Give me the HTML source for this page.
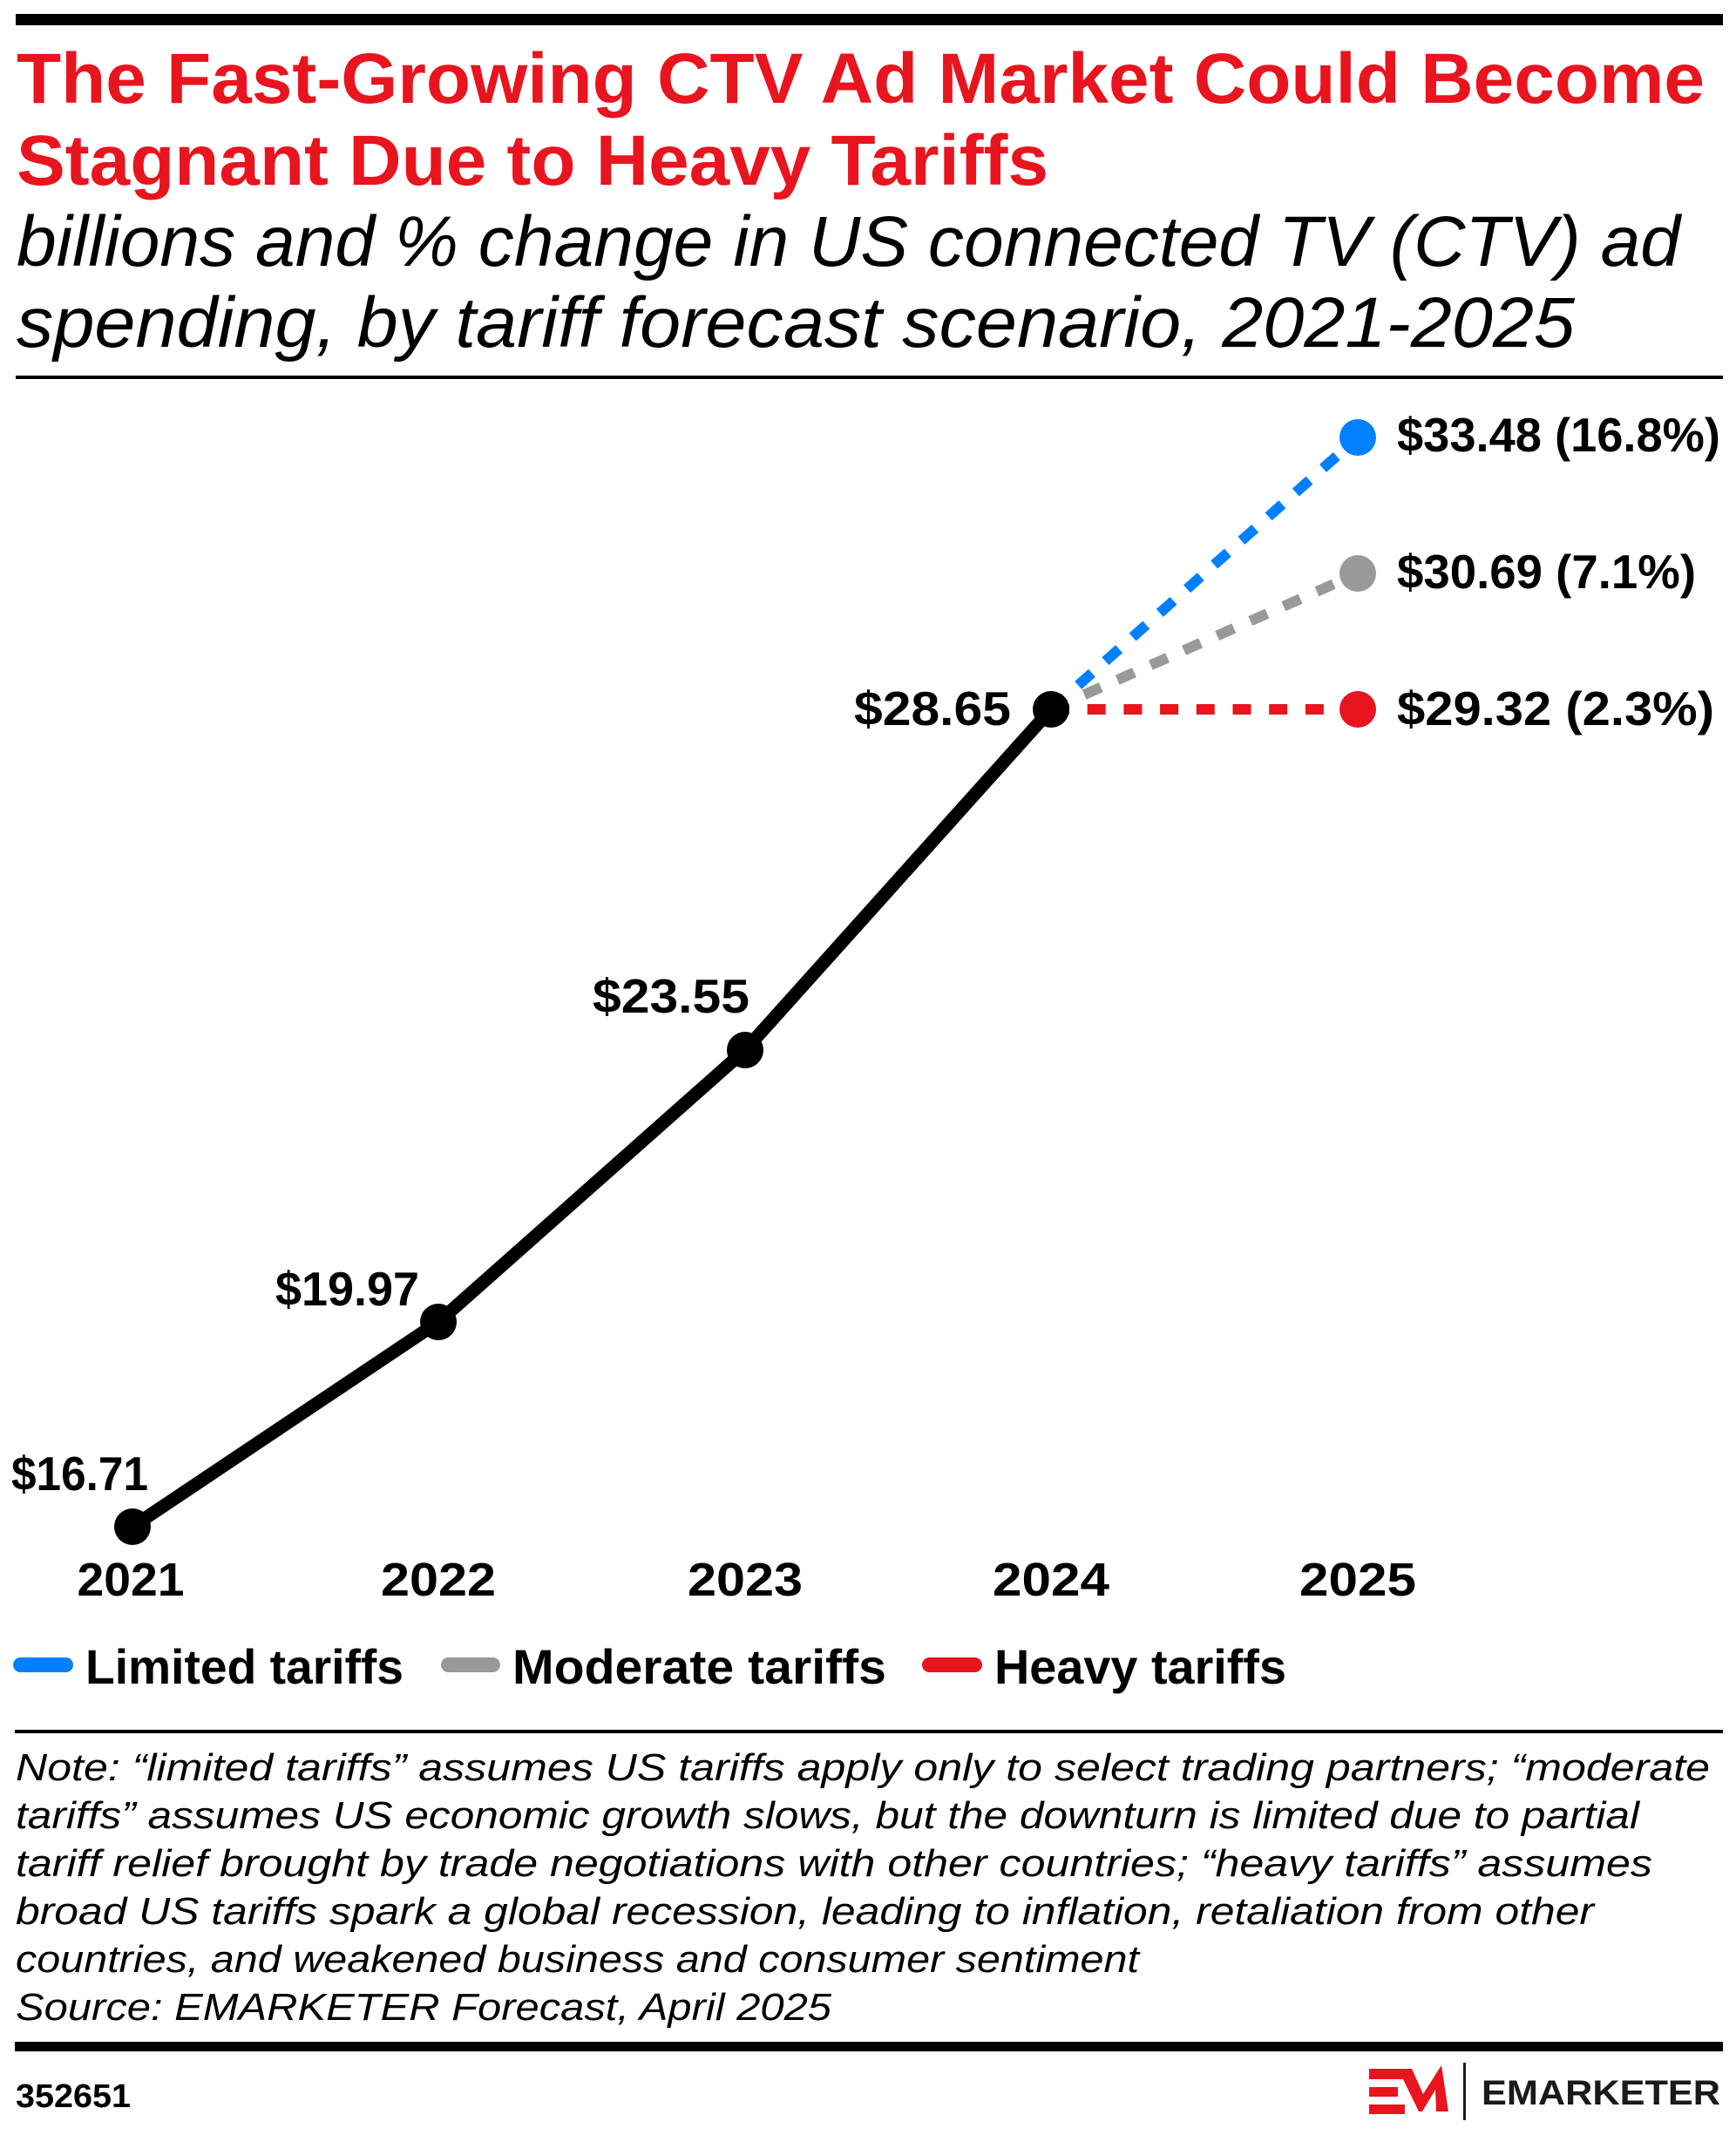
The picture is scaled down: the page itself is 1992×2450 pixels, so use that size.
<!DOCTYPE html>
<html>
<head>
<meta charset="utf-8">
<style>
html,body{margin:0;padding:0;background:#fff;}
svg{display:block;}
text{font-family:"Liberation Sans", Arial, sans-serif;}
</style>
</head>
<body>
<svg width="1992" height="2450" viewBox="0 0 1992 2450" xmlns="http://www.w3.org/2000/svg">
<rect x="0" y="0" width="1992" height="2450" fill="#ffffff"/>
<!-- top bar -->
<rect x="18" y="16" width="1959" height="13" fill="#000"/>
<!-- title -->
<text x="19" y="118" font-size="82" font-weight="700" fill="#E8141E" textLength="1937" lengthAdjust="spacingAndGlyphs">The Fast-Growing CTV Ad Market Could Become</text>
<text x="19" y="212" font-size="82" font-weight="700" fill="#E8141E" textLength="1184" lengthAdjust="spacingAndGlyphs">Stagnant Due to Heavy Tariffs</text>
<text x="19" y="305" font-size="82" font-style="italic" fill="#000" textLength="1909" lengthAdjust="spacingAndGlyphs">billions and % change in US connected TV (CTV) ad</text>
<text x="19" y="398" font-size="82" font-style="italic" fill="#000" textLength="1788" lengthAdjust="spacingAndGlyphs">spending, by tariff forecast scenario, 2021-2025</text>
<rect x="18" y="431" width="1959" height="4" fill="#000"/>

<!-- dashed scenario lines -->
<path d="M1206 814 L1558 502" stroke="#0080FF" stroke-width="12" stroke-dasharray="21 20.7" fill="none"/>
<path d="M1206 814 L1558 658" stroke="#999999" stroke-width="12" stroke-dasharray="21 20.7" fill="none"/>
<path d="M1206 814 L1558 814" stroke="#E8141E" stroke-width="12" stroke-dasharray="21 20.7" fill="none"/>

<!-- main line -->
<polyline points="152,1752 503,1517 855,1205 1206,814" stroke="#000" stroke-width="15" fill="none" stroke-linejoin="round"/>
<circle cx="152" cy="1752" r="21" fill="#000"/>
<circle cx="503" cy="1517" r="21" fill="#000"/>
<circle cx="855" cy="1205" r="21" fill="#000"/>
<circle cx="1206" cy="814" r="21" fill="#000"/>
<circle cx="1558" cy="502" r="21" fill="#0080FF"/>
<circle cx="1558" cy="658" r="21" fill="#999999"/>
<circle cx="1558" cy="814" r="21" fill="#E8141E"/>

<!-- data labels -->
<g font-size="55" font-weight="700" fill="#000">
<text x="13" y="1710" textLength="157" lengthAdjust="spacingAndGlyphs">$16.71</text>
<text x="316" y="1498" textLength="165" lengthAdjust="spacingAndGlyphs">$19.97</text>
<text x="680" y="1162" textLength="180" lengthAdjust="spacingAndGlyphs">$23.55</text>
<text x="980" y="832" textLength="180" lengthAdjust="spacingAndGlyphs">$28.65</text>
<text x="1603" y="518" textLength="371" lengthAdjust="spacingAndGlyphs">$33.48 (16.8%)</text>
<text x="1603" y="675" textLength="343" lengthAdjust="spacingAndGlyphs">$30.69 (7.1%)</text>
<text x="1603" y="832" textLength="364" lengthAdjust="spacingAndGlyphs">$29.32 (2.3%)</text>
</g>

<!-- x axis labels -->
<g font-size="54" font-weight="700" fill="#000" text-anchor="middle">
<text x="150" y="1831" textLength="123" lengthAdjust="spacingAndGlyphs">2021</text>
<text x="503" y="1831" textLength="132" lengthAdjust="spacingAndGlyphs">2022</text>
<text x="855" y="1831" textLength="132" lengthAdjust="spacingAndGlyphs">2023</text>
<text x="1206" y="1831" textLength="134" lengthAdjust="spacingAndGlyphs">2024</text>
<text x="1558" y="1831" textLength="134" lengthAdjust="spacingAndGlyphs">2025</text>
</g>

<!-- legend -->
<rect x="15" y="1902" width="69" height="17" rx="8.5" fill="#0080FF"/>
<rect x="506" y="1902" width="68" height="17" rx="8.5" fill="#999999"/>
<rect x="1058" y="1902" width="69" height="17" rx="8.5" fill="#E8141E"/>
<g font-size="56" font-weight="700" fill="#000">
<text x="98" y="1932" textLength="365" lengthAdjust="spacingAndGlyphs">Limited tariffs</text>
<text x="588" y="1932" textLength="429" lengthAdjust="spacingAndGlyphs">Moderate tariffs</text>
<text x="1141" y="1932" textLength="335" lengthAdjust="spacingAndGlyphs">Heavy tariffs</text>
</g>

<rect x="17" y="1985" width="1960" height="4" fill="#000"/>

<!-- notes -->
<g font-size="44" font-style="italic" fill="#000">
<text x="18" y="2043" textLength="1944" lengthAdjust="spacingAndGlyphs">Note: “limited tariffs” assumes US tariffs apply only to select trading partners; “moderate</text>
<text x="18" y="2098" textLength="1863" lengthAdjust="spacingAndGlyphs">tariffs” assumes US economic growth slows, but the downturn is limited due to partial</text>
<text x="18" y="2153" textLength="1878" lengthAdjust="spacingAndGlyphs">tariff relief brought by trade negotiations with other countries; “heavy tariffs” assumes</text>
<text x="18" y="2208" textLength="1811" lengthAdjust="spacingAndGlyphs">broad US tariffs spark a global recession, leading to inflation, retaliation from other</text>
<text x="18" y="2263" textLength="1289" lengthAdjust="spacingAndGlyphs">countries, and weakened business and consumer sentiment</text>
<text x="18" y="2318" textLength="936" lengthAdjust="spacingAndGlyphs">Source: EMARKETER Forecast, April 2025</text>
</g>

<rect x="17" y="2343" width="1960" height="11" fill="#000"/>

<!-- footer -->
<text x="18" y="2418" font-size="38" font-weight="700" fill="#000" textLength="132" lengthAdjust="spacingAndGlyphs">352651</text>

<!-- EM logo -->
<rect x="1571" y="2395" width="33" height="11" fill="#E8141E"/>
<rect x="1571" y="2415" width="41" height="11" fill="#E8141E"/>
<polygon points="1571,2374 1620,2374 1633,2403 1654,2370 1662,2423 1648,2423 1647,2398 1632,2423 1628,2423 1610,2386 1571,2386" fill="#E8141E"/>
<rect x="1679" y="2367" width="3" height="66" fill="#1a1a1a"/>
<text x="1700" y="2415" font-size="40" font-weight="700" fill="#1a1a1a" textLength="274" lengthAdjust="spacingAndGlyphs">EMARKETER</text>
</svg>
</body>
</html>
